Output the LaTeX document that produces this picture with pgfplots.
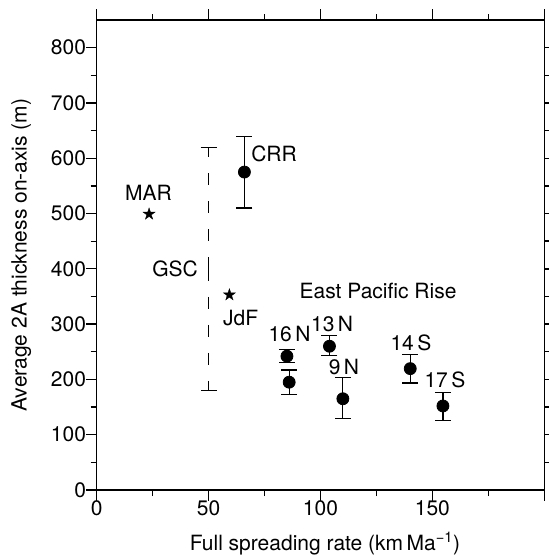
\documentclass[border=0pt]{standalone}
\usepackage{fontspec}
\setmainfont{TeX Gyre Heros}
\usepackage{pgfplots}
\usepackage{pgfplotstable}
\pgfplotsset{compat=1.18}

\pgfdeclareplotmark{fstar}{%
 \pgfpathmoveto{\pgfpointpolar{90}{\pgfplotmarksize}}%
 \pgfpathlineto{\pgfpointpolar{126}{0.382\pgfplotmarksize}}%
 \pgfpathlineto{\pgfpointpolar{162}{\pgfplotmarksize}}%
 \pgfpathlineto{\pgfpointpolar{198}{0.382\pgfplotmarksize}}%
 \pgfpathlineto{\pgfpointpolar{234}{\pgfplotmarksize}}%
 \pgfpathlineto{\pgfpointpolar{270}{0.382\pgfplotmarksize}}%
 \pgfpathlineto{\pgfpointpolar{306}{\pgfplotmarksize}}%
 \pgfpathlineto{\pgfpointpolar{342}{0.382\pgfplotmarksize}}%
 \pgfpathlineto{\pgfpointpolar{18}{\pgfplotmarksize}}%
 \pgfpathlineto{\pgfpointpolar{54}{0.382\pgfplotmarksize}}%
 \pgfpathclose
 \pgfusepathqfillstroke}

% East Pacific Rise and CRR: rate, thickness, +err, -err
\pgfplotstableread{
x     y      ep   em
85.0  242    12   11
86.0  195    22   22
104.0 260    19   17
110.0 165    39   35
140.1 219.5  26   26
154.7 152    25   27
66.0  575    65   65
}\epr

\newcommand{\lf}{\fontsize{21bp}{25bp}\selectfont}

\begin{document}
\begin{tikzpicture}
\path (-96.7bp,-70bp) rectangle (452.3bp,490bp);
\begin{axis}[
  width=447.6bp, height=470bp, scale only axis,
  xmin=0, xmax=200, ymin=0, ymax=850,
  xtick={0,50,...,200}, xticklabels={0,50,100,150,{}},
  minor xtick={25,75,125,175},
  ytick={0,100,...,800}, minor ytick={50,150,...,750},
  xtick pos=bottom, ytick pos=left,
  tick align=outside,
  major tick length=10.5bp, minor tick length=6bp,
  axis line style={line width=1.3bp, black},
  ytick style={line width=1.3bp, black},
  xtick style={line width=1.3bp, black},
  /pgf/number format/assume math mode=true,
  tick label style={font=\lf, inner sep=0pt},
  xticklabel style={anchor=north},
  yticklabel style={anchor=east},
  xlabel={Full spreading rate (km\,Ma\textsuperscript{−1})},
  ylabel={Average 2A thickness on-axis (m)},
  every axis x label/.style={at={([yshift=-60bp]rel axis cs:0.51,0)}, anchor=base, font=\lf, inner sep=0pt},
  every axis y label/.style={at={([xshift=-70bp]rel axis cs:0,0.5)}, anchor=base, rotate=90, font=\fontsize{21bp}{25bp}\selectfont, inner sep=0pt},
]
% GSC range
\addplot[black, mark=none, forget plot,
  error bars/.cd, y dir=both, y explicit,
  error bar style={line width=1.2bp, black, dash pattern=on 12bp off 16bp},
  error mark options={rotate=90, solid, mark size=8bp, line width=1.2bp, black}]
  coordinates {(50,400) +- (0,220)};
% EPR, CRR
\addplot[only marks, black, mark=*, mark size=6bp, mark options={fill=black, line width=0.8bp},
  error bars/.cd, y dir=both, y explicit,
  error bar style={line width=1.2bp, black},
  error mark options={rotate=90, mark size=8bp, line width=1.2bp, black}]
  table[x=x, y=y, y error plus=ep, y error minus=em]{\epr};
% MAR, JdF
\addplot[only marks, black, mark=fstar, mark size=6.3bp, mark options={fill=black, line width=0.3bp}]
  coordinates {(23.4,499) (59.3,353)};

\node[font=\lf, inner sep=0pt, anchor=base] at (axis cs:23.1,524.4) {MAR};
\node[font=\lf, inner sep=0pt, anchor=base] at (axis cs:35.0,385.7) {GSC};
\node[font=\lf, inner sep=0pt, anchor=base] at (axis cs:64.3,298.4) {JdF};
\node[font=\lf, inner sep=0pt, anchor=base west] at (axis cs:69.0,593.7) {CRR};
\node[font=\lf, inner sep=0pt, anchor=base west] at (axis cs:90.6,346.7) {East Pacific Rise};
\node[font=\lf, inner sep=0pt, anchor=base west] at (axis cs:76.7,268.2) {16\,N};
\node[font=\lf, inner sep=0pt, anchor=base west] at (axis cs:95.7,286.3) {13\,N};
\node[font=\lf, inner sep=0pt, anchor=base west] at (axis cs:103.6,208) {9\,N};
\node[font=\lf, inner sep=0pt, anchor=base west] at (axis cs:131.2,251.4) {14\,S};
\node[font=\lf, inner sep=0pt, anchor=base west] at (axis cs:146.4,185) {17\,S};
\end{axis}
% frame ticks on bottom, top and right, drawn as filled bars on the axis scale
\begin{scope}
\foreach \i in {0,...,4} {
  \fill[black] ({\i*111.9bp-0.7bp},0bp) rectangle ++(1.4bp,-10.5bp);
  \fill[black] ({\i*111.9bp-0.7bp},470bp) rectangle ++(1.4bp,10.5bp);
}
\foreach \i in {0,...,3} {
  \fill[black] ({55.95bp+\i*111.9bp-0.7bp},0bp) rectangle ++(1.4bp,-5.5bp);
  \fill[black] ({55.95bp+\i*111.9bp-0.7bp},470bp) rectangle ++(1.4bp,5.5bp);
}
\foreach \k in {1,...,16} {
  \fill[black] (447.6bp,{\k*27.647bp-0.7bp}) rectangle ++(5bp,1.4bp);
}
\draw[line width=1.3bp, black] (0bp,0bp) rectangle (447.6bp,470bp);
\end{scope}
\end{tikzpicture}
\end{document}
